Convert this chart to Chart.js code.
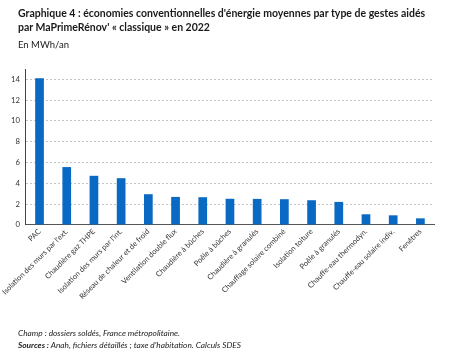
<!DOCTYPE html>
<html><head><meta charset="utf-8">
<script src="https://cdn.jsdelivr.net/npm/chart.js@4.4.0/dist/chart.umd.min.js"></script>
<style>
html,body{margin:0;padding:0;background:#fff;}
#wrap{position:relative;width:474px;height:357px;overflow:hidden;font-family:Lato,"Open Sans",sans-serif;color:#1a1a1a;}
#c{position:absolute;left:0;top:0;}
.t{position:absolute;left:18px;font-weight:bold;font-size:10.5px;white-space:nowrap;}
.s{position:absolute;left:18px;font-size:9.5px;}
.f{position:absolute;left:18px;font-style:italic;font-size:8.3px;white-space:nowrap;color:#222;}
</style></head><body>
<div id="wrap">
<canvas id="c" width="474" height="357"></canvas>
<div class="t" style="top:7px">Graphique 4 : économies conventionnelles d'énergie moyennes par type de gestes aidés</div>
<div class="t" style="top:21px">par MaPrimeRénov' « classique » en 2022</div>
<div class="s" style="top:39px">En MWh/an</div>
<div class="f" style="top:328px">Champ : dossiers soldés, France métropolitaine.</div>
<div class="f" style="top:340px"><b>Sources :</b> Anah, fichiers détaillés ; taxe d'habitation. Calculs SDES</div>
</div>
<script>
const categories = ["PAC","Isolation des murs par l'ext.","Chaudière gaz THPE","Isolation des murs par l'int.","Réseau de chaleur et de froid","Ventilation double flux","Chaudière à bûches","Poêle à bûches","Chaudière à granulés","Chauffage solaire combiné","Isolation toiture","Poêle à granulés","Chauffe-eau thermodyn.","Chauffe-eau solaire indiv.","Fenêtres"];
const values = [14.1,5.57,4.73,4.5,2.96,2.7,2.67,2.52,2.51,2.48,2.38,2.22,1.03,0.93,0.64];
const yTicks = [0,2,4,6,8,10,12,14];

new Chart(document.getElementById('c'), {
  type: 'bar',
  data: { labels: categories, datasets: [{ data: values, backgroundColor: '#0a69c2', barPercentage: 0.64, categoryPercentage: 0.5 }] },
  options: {
    responsive: false, animation: false,
    layout: { padding: { top: 69, left: 5, right: 40, bottom: 54 } },
    plugins: { legend: { display: false }, tooltip: { enabled: false } },
    scales: {
      x: {
        grid: { display: false, drawTicks: false },
        border: { color: '#555', width: 1 },
        ticks: { maxRotation: 45, minRotation: 45, autoSkip: false, color: '#333', font: { family: 'Lato', size: 7.5 }, padding: 2 }
      },
      y: {
        min: 0, max: 15,
        afterBuildTicks: (s) => { s.ticks = yTicks.map(v => ({ value: v })); },
        grid: { color: (ctx) => ctx.tick && ctx.tick.value === 0 ? 'rgba(0,0,0,0)' : '#c4c4c4', drawTicks: false },
        border: { color: '#444', width: 1, dash: [2,2] },
        ticks: { color: '#333', font: { family: 'Lato', size: 7.7 }, padding: 6 }
      }
    }
  }
});
</script>
</body></html>
